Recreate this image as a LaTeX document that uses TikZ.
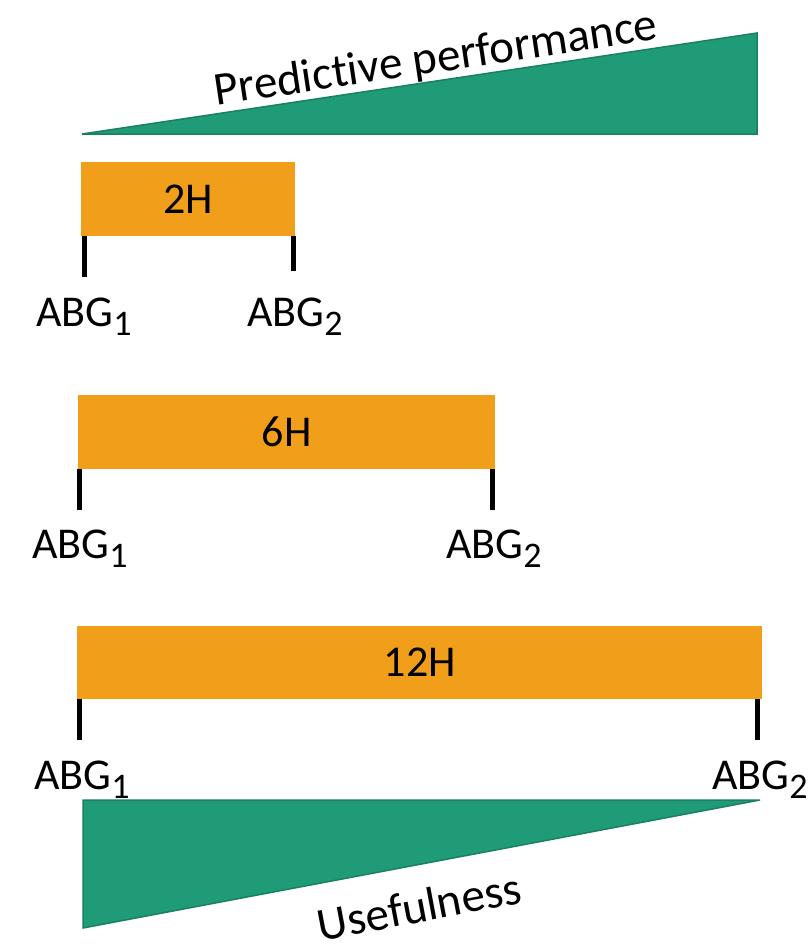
\documentclass[tikz,border=0pt]{standalone}
\usepackage{fontspec}
\setmainfont[Ligatures=NoCommon]{Carlito}
\definecolor{barorange}{HTML}{F19E1B}
\definecolor{wedgegreen}{HTML}{1F9B78}
\definecolor{wedgeline}{HTML}{1B7F62}
\newcommand{\abg}[1]{ABG{\fontsize{36}{38}\selectfont\raisebox{-9pt}{#1}}}
\tikzset{
  bar/.style={fill=barorange,inner sep=0pt,anchor=north west,font=\fontsize{44}{50}\selectfont},
  wedge/.style={fill=wedgegreen,draw=wedgeline,line width=1.5pt},
  tick/.style={line width=5pt},
  lbl/.style={anchor=base,inner sep=0pt,font=\fontsize{44}{50}\selectfont}
}
\begin{document}
\begin{tikzpicture}[x=1pt,y=-1pt]
\useasboundingbox (0,0) rectangle (810,948);
% top wedge
\coordinate (t1) at (82,134);
\coordinate (t2) at (757,33);
\coordinate (t3) at (757,134);
\draw[wedge] (t1) -- (t2) -- (t3) -- cycle;
\node[rotate=8.5,font=\fontsize{47}{52}\selectfont] (perf) at (436,60) {Predictive performance};
% bars
\node[bar,minimum width=214pt,minimum height=74pt] (h2) at (81,162) {2H};
\node[bar,minimum width=417pt,minimum height=74pt] (h6) at (78,395) {6H};
\node[bar,minimum width=685pt,minimum height=73pt] (h12) at (77,626) {12H};
% ticks
\coordinate (h2l) at (84,277);
\coordinate (h2r) at (293,271);
\coordinate (h6l) at (79,510);
\coordinate (h6r) at (492,510);
\coordinate (h12l) at (79,740);
\coordinate (h12r) at (757,740);
\draw[tick] (h2l) -- (h2l |- h2.south);
\draw[tick] (h2r) -- (h2r |- h2.south);
\draw[tick] (h6l) -- (h6l |- h6.south);
\draw[tick] (h6r) -- (h6r |- h6.south);
\draw[tick] (h12l) -- (h12l |- h12.south);
\draw[tick] (h12r) -- (h12r |- h12.south);
% labels
\node[lbl] (g2a) at (84,326) {\abg{1}};
\node[lbl] (g2b) at (295,326) {\abg{2}};
\node[lbl] (g6a) at (80,558) {\abg{1}};
\node[lbl] (g6b) at (494,558) {\abg{2}};
\node[lbl] (g12a) at (82,789) {\abg{1}};
\node[lbl] (g12b) at (760,789) {\abg{2}};
% bottom wedge
\coordinate (u1) at (83,800);
\coordinate (u2) at (760,800);
\coordinate (u3) at (83,928);
\draw[wedge] (u1) -- (u2) -- (u3) -- cycle;
\node[rotate=10.7,font=\fontsize{47}{52}\selectfont] (use) at (419,906) {Usefulness};
\end{tikzpicture}
\end{document}
